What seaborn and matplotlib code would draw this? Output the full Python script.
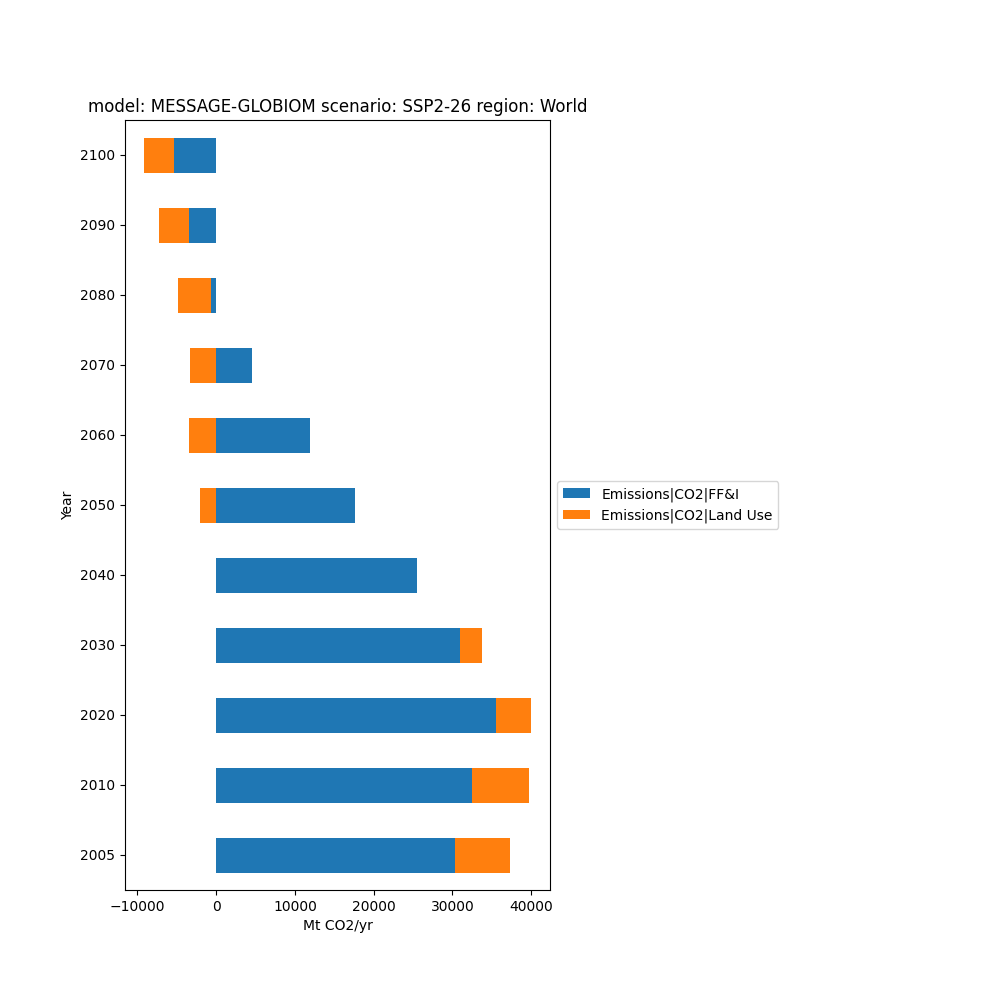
import numpy as np
import pandas as pd
import matplotlib
matplotlib.use("Agg")
import matplotlib.pyplot as plt
from matplotlib.patches import Patch
import seaborn as sns

years = ["2005", "2010", "2020", "2030", "2040", "2050", "2060", "2070", "2080", "2090", "2100"]
ffi = [30300, 32460, 35500, 30940, 25490, 17630, 11920, 4560, -634, -3420, -5325]
land_use = [6970, 7230, 4440, 2790, 0, -2030, -3420, -3300, -4180, -3800, -3800]
series_names = ["Emissions|CO2|FF&I", "Emissions|CO2|Land Use"]
colors = ["#1f77b4", "#ff7f0e"]
title = "model: MESSAGE-GLOBIOM scenario: SSP2-26 region: World"
xlabel = "Mt CO2/yr"
ylabel = "Year"

df = pd.DataFrame({"year": years, "ffi": ffi, "lu": land_use})
# pandas-style stacking: positives stack to the right, negatives to the left
df["ffi_pos"] = df["ffi"].clip(lower=0)
df["ffi_neg"] = df["ffi"].clip(upper=0)
df["lu_pos"] = df["lu"].clip(lower=0)
df["lu_neg"] = df["lu"].clip(upper=0)
df["tot_pos"] = df["ffi_pos"] + df["lu_pos"]
df["tot_neg"] = df["ffi_neg"] + df["lu_neg"]

order = years[::-1]

fig = plt.figure(figsize=(10, 10), dpi=100)
ax = fig.add_axes([0.125, 0.11, 0.425, 0.77])

common = dict(y="year", order=order, orient="h", width=0.5, saturation=1,
              errorbar=None, ax=ax, linewidth=0)
sns.barplot(data=df, x="tot_pos", color=colors[1], **common)
sns.barplot(data=df, x="tot_neg", color=colors[1], **common)
sns.barplot(data=df, x="ffi_pos", color=colors[0], **common)
sns.barplot(data=df, x="ffi_neg", color=colors[0], **common)

ax.set_ylim(len(years) - 0.5, -0.5)
xmin = df["tot_neg"].min()
xmax = df["tot_pos"].max()
pad = 0.05 * (xmax - xmin)
ax.set_xlim(xmin - pad, xmax + pad)

ax.set_title(title, fontsize=12)
ax.set_xlabel(xlabel)
ax.set_ylabel(ylabel)

handles = [Patch(facecolor=c, label=n) for c, n in zip(colors, series_names)]
ax.legend(handles=handles, loc="center left", bbox_to_anchor=(1, 0.5))

fig.savefig("out.png", dpi=100)
